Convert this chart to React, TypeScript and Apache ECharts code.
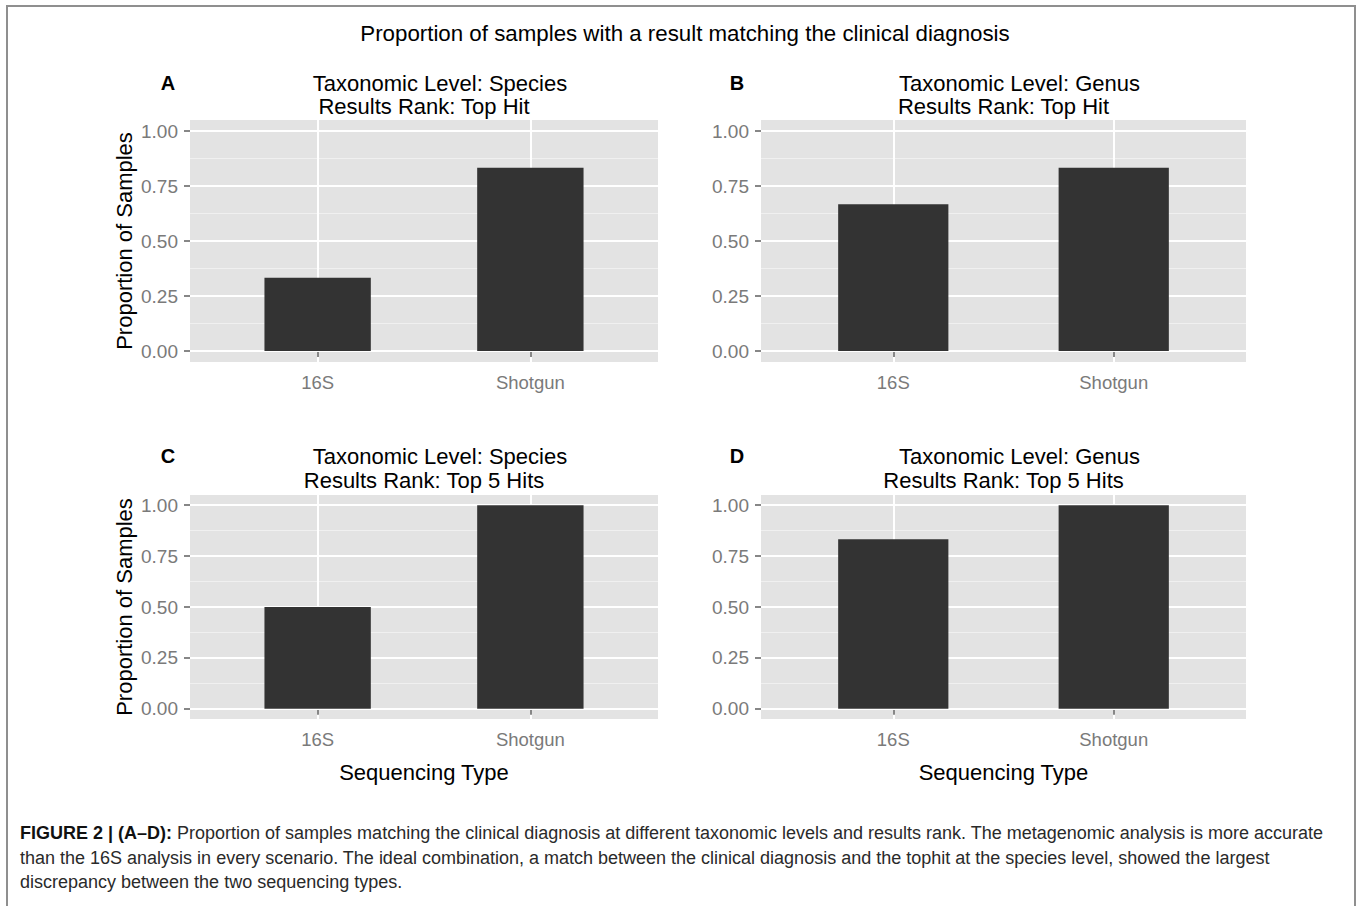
import React, { useEffect, useRef } from 'react';
import * as echarts from 'echarts';

const categories = ['16S', 'Shotgun'];
const categoryPositions = [1, 2];
const panelLetters = ['A', 'B', 'C', 'D'];
const titleLine1 = [
  'Taxonomic Level: Species',
  'Taxonomic Level: Genus',
  'Taxonomic Level: Species',
  'Taxonomic Level: Genus',
];
const titleLine2 = [
  'Results Rank: Top Hit',
  'Results Rank: Top Hit',
  'Results Rank: Top 5 Hits',
  'Results Rank: Top 5 Hits',
];
const valuesA = [0.333, 0.833];
const valuesB = [0.667, 0.833];
const valuesC = [0.5, 1.0];
const valuesD = [0.833, 1.0];
const panelValues = [valuesA, valuesB, valuesC, valuesD];
const yTicks = [0, 0.25, 0.5, 0.75, 1];
const yMinorTicks = [0.125, 0.375, 0.625, 0.875];

const mainTitle = 'Proportion of samples with a result matching the clinical diagnosis';
const yAxisTitle = 'Proportion of Samples';
const xAxisTitle = 'Sequencing Type';
const captionBold = 'FIGURE 2 | (A\u2013D):';
const captionLines = [
  ' Proportion of samples matching the clinical diagnosis at different taxonomic levels and results rank. The metagenomic analysis is more accurate',
  'than the 16S analysis in every scenario. The ideal combination, a match between the clinical diagnosis and the tophit at the species level, showed the largest',
  'discrepancy between the two sequencing types.',
];

const layouts = [
  { left: 190, top: 120, width: 468, height: 242 },
  { left: 761, top: 120, width: 485, height: 242 },
  { left: 190, top: 495, width: 468, height: 224 },
  { left: 761, top: 495, width: 485, height: 224 },
];
const titleY = [
  [83, 106],
  [83, 106],
  [456, 480],
  [456, 480],
];
const letterX = [168, 737, 168, 737];

const FONT = '"Liberation Sans", Arial, Helvetica, sans-serif';
const GRAY = '#7a7a7a';

export default function App() {
  const ref = useRef<HTMLDivElement>(null);
  useEffect(() => {
    document.body.style.margin = '0';
    if (!ref.current) return;
    const chart = echarts.init(ref.current, null, { renderer: 'svg' });

    const grids: any[] = [];
    const xAxes: any[] = [];
    const yAxes: any[] = [];
    const series: any[] = [];
    const graphics: any[] = [];

    layouts.forEach((l, i) => {
      grids.push({
        left: l.left,
        top: l.top,
        width: l.width,
        height: l.height,
        show: true,
        backgroundColor: '#e3e3e3',
        borderWidth: 0,
        containLabel: false,
      });
      const isBottom = i >= 2;
      const isLeft = i % 2 === 0;
      xAxes.push({
        gridIndex: i,
        type: 'value',
        min: 0.4,
        max: 2.6,
        axisLine: { show: false },
        axisTick: {
          show: true,
          customValues: categoryPositions,
          length: 6,
          lineStyle: { color: GRAY, width: 1.8 },
        },
        axisLabel: {
          customValues: categoryPositions,
          formatter: (v: number) => categories[Math.round(v) - 1] ?? '',
          color: GRAY,
          fontSize: 18.5,
          fontFamily: FONT,
          margin: 11,
        },
        splitLine: { show: true, lineStyle: { color: '#ffffff', width: 2 } },
        name: isBottom ? xAxisTitle : '',
        nameLocation: 'middle',
        nameGap: 42,
        nameTextStyle: { color: '#000', fontSize: 22, fontFamily: FONT },
      });
      yAxes.push({
        gridIndex: i,
        type: 'value',
        min: -0.05,
        max: 1.05,
        axisLine: { show: false },
        axisTick: {
          show: true,
          customValues: yTicks,
          length: 6,
          lineStyle: { color: GRAY, width: 1.8 },
        },
        axisLabel: {
          customValues: yTicks,
          formatter: (v: number) => v.toFixed(2),
          color: GRAY,
          fontSize: 19,
          fontFamily: FONT,
          margin: 12,
        },
        splitLine: { show: true, lineStyle: { color: '#ffffff', width: 2 } },
        name: isLeft ? yAxisTitle : '',
        nameLocation: 'middle',
        nameGap: 55,
        nameTextStyle: { color: '#000', fontSize: 22, fontFamily: FONT },
        z: 1,
      });
      yAxes.push({
        gridIndex: i,
        type: 'value',
        min: -0.05,
        max: 1.05,
        axisLine: { show: false },
        axisTick: { show: false, customValues: yMinorTicks },
        axisLabel: { show: false, customValues: yMinorTicks },
        splitLine: { show: true, lineStyle: { color: '#f0f0f0', width: 1 } },
        z: 0,
      });
      series.push({
        type: 'bar',
        xAxisIndex: i,
        yAxisIndex: i * 2,
        barWidth: (l.width * 0.5) / 2.2,
        itemStyle: { color: '#333333' },
        data: panelValues[i].map((v, j) => [categoryPositions[j], v]),
        z: 3,
      });

      const cx = l.left + l.width / 2;
      graphics.push({
        type: 'text',
        x: letterX[i],
        y: titleY[i][0],
        style: {
          text: panelLetters[i],
          font: `bold 20px ${FONT}`,
          fill: '#000',
          textAlign: 'center',
          textVerticalAlign: 'middle',
        },
      });
      graphics.push({
        type: 'text',
        x: cx + 16,
        y: titleY[i][0],
        style: {
          text: titleLine1[i],
          font: `22px ${FONT}`,
          fill: '#000',
          textAlign: 'center',
          textVerticalAlign: 'middle',
        },
      });
      graphics.push({
        type: 'text',
        x: cx,
        y: titleY[i][1],
        style: {
          text: titleLine2[i],
          font: `22px ${FONT}`,
          fill: '#000',
          textAlign: 'center',
          textVerticalAlign: 'middle',
        },
      });
    });

    graphics.push({
      type: 'rect',
      shape: { x: 7, y: 6, width: 1348, height: 912 },
      style: { fill: 'none', stroke: '#8f8f8f', lineWidth: 2 },
      silent: true,
    });
    graphics.push({
      type: 'text',
      x: 685,
      y: 33,
      style: {
        text: mainTitle,
        font: `22.3px ${FONT}`,
        fill: '#000',
        textAlign: 'center',
        textVerticalAlign: 'middle',
      },
    });
    graphics.push({
      type: 'text',
      x: 20,
      y: 821,
      style: {
        text: `{b|${captionBold}}{r|${captionLines[0]}}\n{r|${captionLines[1]}}\n{r|${captionLines[2]}}`,
        rich: {
          b: { fontFamily: FONT, fontSize: 18, fontWeight: 'bold', fill: '#111', lineHeight: 24.5 },
          r: { fontFamily: FONT, fontSize: 18, fill: '#2a2a2a', lineHeight: 24.5 },
        },
        textAlign: 'left',
        textVerticalAlign: 'top',
      },
    });

    chart.setOption({
      animation: false,
      backgroundColor: '#ffffff',
      grid: grids,
      xAxis: xAxes,
      yAxis: yAxes,
      series,
      graphic: graphics,
    });
    return () => chart.dispose();
  }, []);
  return <div ref={ref} style={{ width: 1357, height: 906 }} />;
}
